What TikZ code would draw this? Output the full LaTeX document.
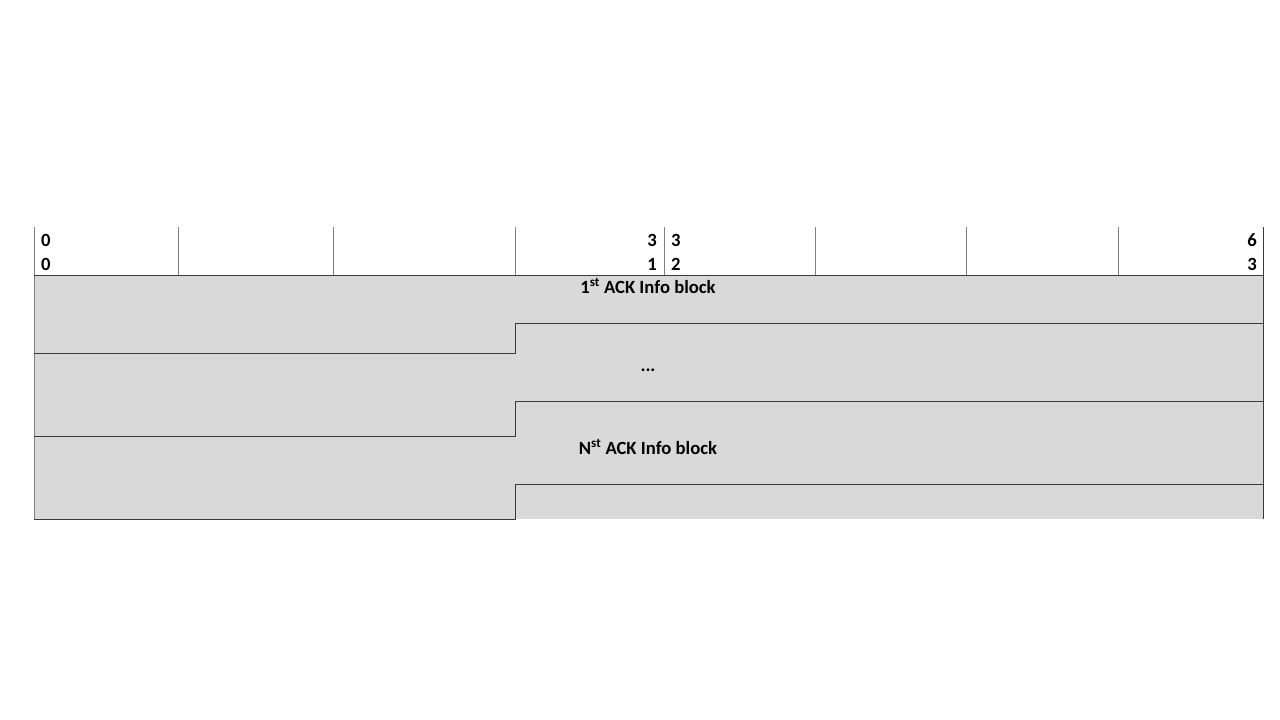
\documentclass[tikz,border=0pt]{standalone}
\usepackage{fontspec}
\setmainfont{Carlito}
\definecolor{blockgray}{HTML}{D9D9D9}
\definecolor{rulegray}{HTML}{808080}
\definecolor{ruledark}{HTML}{3A3A3A}

\begin{document}
\begin{tikzpicture}[x=1pt,y=-1pt,
    lbl/.style={font=\bfseries\fontsize{18.67}{22}\selectfont,inner sep=0pt},
    edge/.style={ruledark,line width=1pt},
    tick/.style={rulegray,line width=1pt}]
    \useasboundingbox (0,0) rectangle (1280,720);

    % Shaded blocks
    \fill[blockgray] (34,275) rectangle (1263,519);

    % Bit ruler
    \foreach \x in {178,333,515,664,815,966,1118}
        \draw[tick] (\x,227) -- (\x,275);
    \draw[tick] (34,227) -- (34,519);
    \draw[edge] (1263,227) -- (1263,519);
    \draw[edge] (34,275) -- (1263,275);

    % Block borders
    \draw[edge] (34,353) -- (515,353) -- (515,323) -- (1263,323);
    \draw[edge] (34,436) -- (515,436) -- (515,401) -- (1263,401);
    \draw[edge] (34,519) -- (515,519) -- (515,484) -- (1263,484);

    % Bit numbers
    \node[lbl,anchor=base west] (b0a) at (41,246) {0};
    \node[lbl,anchor=base west] (b0b) at (41,270) {0};
    \node[lbl,anchor=base east] (b31a) at (657,246) {3};
    \node[lbl,anchor=base east] (b31b) at (657,270) {1};
    \node[lbl,anchor=base west] (b32a) at (671,246) {3};
    \node[lbl,anchor=base west] (b32b) at (671,270) {2};
    \node[lbl,anchor=base east] (b63a) at (1257,246) {6};
    \node[lbl,anchor=base east] (b63b) at (1257,270) {3};

    % Labels
    \node[lbl,anchor=base] (first) at (648,293) {1\textsuperscript{st} ACK Info block};
    \node[lbl,anchor=base] (dots) at (648,371) {...};
    \node[lbl,anchor=base] (last) at (648,454) {N\textsuperscript{st} ACK Info block};
\end{tikzpicture}
\end{document}
